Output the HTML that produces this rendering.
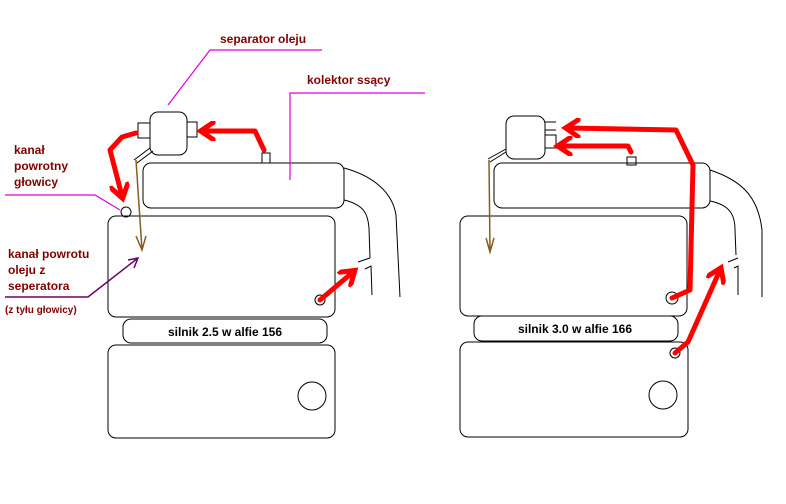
<!DOCTYPE html>
<html><head><meta charset="utf-8"><style>
html,body{margin:0;padding:0;background:#fff;}
svg{display:block}
text{font-family:"Liberation Sans",sans-serif;font-weight:bold;fill:#800000;font-size:12px}
</style></head><body>
<svg width="786" height="504" viewBox="0 0 786 504" xmlns="http://www.w3.org/2000/svg">
<defs>
<marker id="ar" markerWidth="4" markerHeight="4" refX="2.5" refY="2" orient="auto" markerUnits="strokeWidth"><path d="M0,0 L3,2 L0,4" fill="none" stroke="#f00" stroke-width="1"/></marker>
</defs>
<g fill="none" stroke="#000" stroke-width="1">
<!-- LEFT -->
<rect x="150" y="112" width="37" height="43" rx="8"/>
<rect x="138" y="123" width="12" height="15"/>
<rect x="187" y="122" width="10" height="15"/>
<path d="M150,148 L134,160 M153,151 L137,163"/>
<rect x="143" y="163" width="201" height="45" rx="8"/>
<rect x="262" y="153" width="8" height="10"/>
<rect x="108" y="216" width="227" height="101" rx="8"/>
<rect x="123" y="319" width="204" height="24" rx="8"/>
<rect x="108" y="345" width="227" height="93" rx="8"/>
<circle cx="312" cy="396" r="14"/>
<circle cx="126" cy="212" r="5"/>
<circle cx="320" cy="300" r="5"/>
<path d="M344,168 C370,175 392,190 396,215 L400,297"/>
<path d="M344,200 C365,205 368,215 369,228 L370,258"/>
<path d="M358,262 L370,258 M365,269 L371,266 L372,295"/>
<!-- RIGHT -->
<rect x="506" y="116" width="39" height="43" rx="8"/>
<path d="M545,122 L556,122 M545,130 L556,130 M545,135 L556,135 L556,148 L545,148"/>
<path d="M506,149 L488,159 M506,152 L490,162"/>
<rect x="494" y="163" width="216" height="45" rx="8"/>
<rect x="627" y="157" width="9" height="8"/>
<rect x="460" y="216" width="227" height="100" rx="8"/>
<rect x="474" y="316" width="204" height="25" rx="8"/>
<rect x="460" y="342" width="228" height="95" rx="8"/>
<circle cx="663" cy="395" r="14"/>
<circle cx="672" cy="298" r="6"/>
<circle cx="675" cy="353" r="5"/>
<path d="M710,170 C740,180 758,195 762,230 L762,297"/>
<path d="M710,201 C730,205 735,215 735,230 L736,255"/>
<path d="M728,262 L738,258 M734,268 L738,266 L738,295"/>
</g>
<!-- brown arrows -->
<g fill="none" stroke="#8b5a1e" stroke-width="1.5">
<path d="M136,160 L142,250 M136,236 L142,250 L146,236"/>
<path d="M489,160 L490,252 M486,238 L490,252 L494,238"/>
</g>
<!-- magenta/purple lines -->
<g fill="none" stroke="#e000e0" stroke-width="1.2">
<path d="M322,50 L210,50 L168,105"/>
<path d="M425,93 L290,93 L290,180"/>
<path d="M5,195 L95,195 L120,210"/>
</g>
<path d="M5,297 L88,297 L138,258 M128,260 L138,258 L134,268" fill="none" stroke="#6a006a" stroke-width="1.5"/>
<!-- red arrows -->
<g fill="none" stroke="#f00" stroke-width="5" stroke-linejoin="round" stroke-linecap="round">
<path d="M264,150 L255,131 L203,131" marker-end="url(#ar)"/>
<path d="M136,133 L122,137 L110,150 L122,196" marker-end="url(#ar)"/>
<path d="M320,300 L353,272" marker-end="url(#ar)"/>
<path d="M672,298 L690,290 L693,165 L676,130 L568,128" marker-end="url(#ar)"/>
<path d="M631,152 L628,146 L560,146" marker-end="url(#ar)"/>
<path d="M675,353 L688,342 L720,270" marker-end="url(#ar)"/>
</g>
<!-- text -->
<text x="220" y="43">separator oleju</text>
<text x="307" y="84">kolektor ssący</text>
<text x="14" y="154">kanał</text>
<text x="14" y="170">powrotny</text>
<text x="14" y="186">głowicy</text>
<text x="8" y="258">kanał powrotu</text>
<text x="8" y="274">oleju z</text>
<text x="8" y="290">seperatora</text>
<text x="5" y="313" style="font-size:10px">(z tyłu głowicy)</text>
<text x="225" y="336" text-anchor="middle" style="fill:#000">silnik 2.5 w alfie 156</text>
<text x="575" y="333" text-anchor="middle" style="fill:#000">silnik 3.0 w alfie 166</text>
</svg>
</body></html>
